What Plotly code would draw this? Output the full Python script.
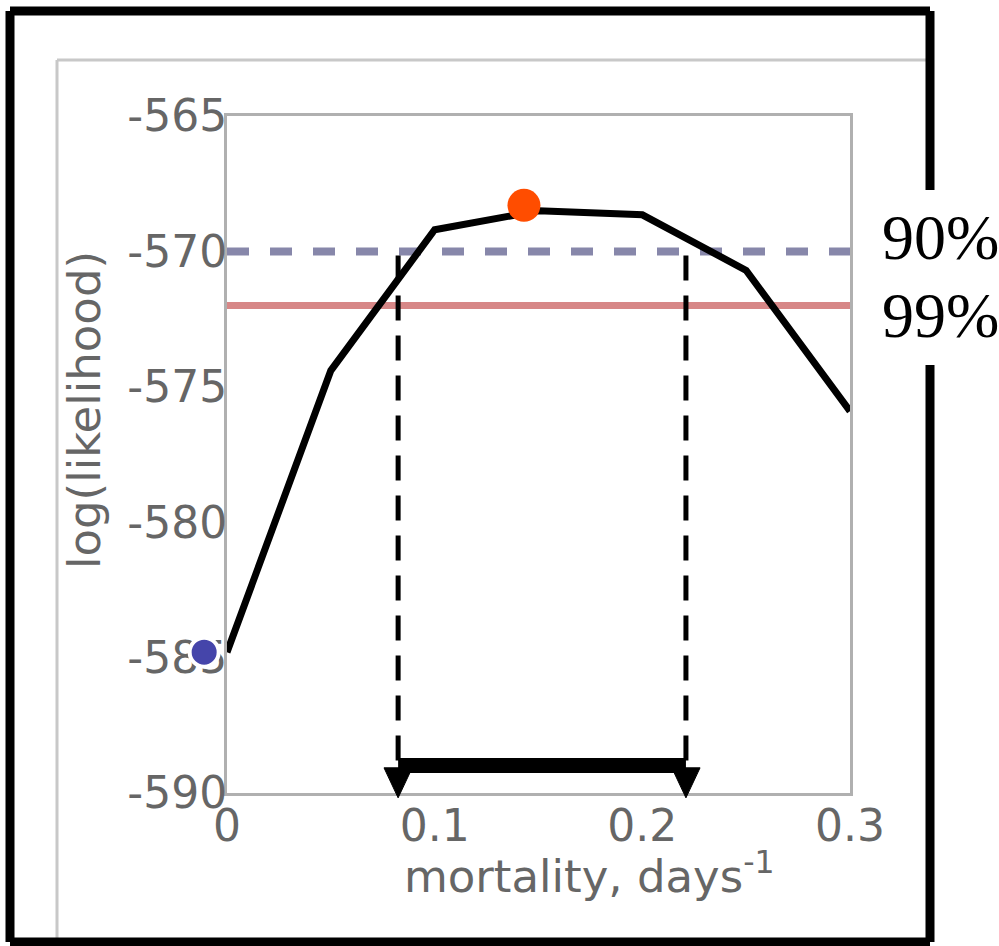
import plotly.graph_objects as go

# ---- data ----
mortality = [0.0, 0.05, 0.10, 0.15, 0.20, 0.25, 0.30]
loglik = [-584.8, -574.4, -569.2, -568.5, -568.65, -570.7, -575.9]

mle_x = [0.143]
mle_y = [-568.3]
start_x = [-0.011]
start_y = [-584.8]

level90 = -570.0
level99 = -572.0

ci_bounds = [0.0824, 0.221]
ci_top = -570.15
ci_bar_y = -588.98
arrow_top = -589.07
arrow_tip = -590.18
arrow_half_width = 0.0068

x_range = [0.0, 0.3]
y_range = [-590.0, -565.0]
x_ticks = [0.0, 0.1, 0.2, 0.3]
x_ticklabels = ["0", "0.1", "0.2", "0.3"]
y_ticks = [-590, -585, -580, -575, -570, -565]
y_ticklabels = ["-590", "-585", "-580", "-575", "-570", "-565"]

W, H = 999, 946
TICK_FONT = dict(family="DejaVu Sans", size=44, color="#666666")
LABEL_FONT = dict(family="DejaVu Sans", size=45, color="#666666")

fig = go.Figure()

# confidence levels
fig.add_trace(go.Scatter(x=x_range, y=[level99, level99], mode="lines",
                         line=dict(color="#d78787", width=7), hoverinfo="skip"))
fig.add_trace(go.Scatter(x=x_range, y=[level90, level90], mode="lines",
                         line=dict(color="#8787aa", width=8, dash="22px,21px"),
                         hoverinfo="skip"))
# likelihood curve
fig.add_trace(go.Scatter(x=mortality, y=loglik, mode="lines",
                         line=dict(color="black", width=7)))
# CI dashed verticals
for xb in ci_bounds:
    fig.add_trace(go.Scatter(x=[xb, xb], y=[ci_top, ci_bar_y], mode="lines",
                             line=dict(color="black", width=5, dash="25px,15px")))
# CI bar
fig.add_trace(go.Scatter(x=ci_bounds, y=[ci_bar_y, ci_bar_y], mode="lines",
                         line=dict(color="black", width=15)))
# maximum-likelihood point
fig.add_trace(go.Scatter(x=mle_x, y=mle_y, mode="markers", cliponaxis=False,
                         marker=dict(color="#ff4d00", size=33, line=dict(width=0))))


def xdom(v):
    return (v - x_range[0]) / (x_range[1] - x_range[0])


def ydom(v):
    return (v - y_range[0]) / (y_range[1] - y_range[0])


shapes = []
# arrowheads
for xb in ci_bounds:
    shapes.append(dict(
        type="path", xref="x", yref="y domain", layer="above",
        path=(f"M {xb - arrow_half_width},{ydom(arrow_top)} "
              f"L {xb + arrow_half_width},{ydom(arrow_top)} "
              f"L {xb},{ydom(arrow_tip)} Z"),
        fillcolor="black", line=dict(color="black", width=1)))

# starting point (lies just outside the axis range, so drawn as an unclipped circle)
for sx, sy in zip(start_x, start_y):
    shapes.append(dict(
        type="circle", xref="x domain", yref="y domain",
        xsizemode="pixel", ysizemode="pixel",
        xanchor=xdom(sx), yanchor=ydom(sy),
        x0=-14.5, x1=14.5, y0=-14.5, y1=14.5, layer="above",
        fillcolor="#4545aa", line=dict(color="white", width=4)))


def px(x):
    return x / W


def py(y):
    return 1 - y / H


# inner (original figure) gray frame
shapes.append(dict(type="line", xref="paper", yref="paper",
                   x0=px(57), y0=py(60), x1=px(57), y1=py(946),
                   line=dict(color="#c8c8c8", width=3), layer="below"))
shapes.append(dict(type="line", xref="paper", yref="paper",
                   x0=px(57), y0=py(60), x1=px(930), y1=py(60),
                   line=dict(color="#c8c8c8", width=3), layer="below"))
# outer black frame with gap for labels
black = dict(color="black", width=9)
for (a, b, c, d) in [(10, 11, 930, 11), (10, 11, 10, 942), (10, 942, 930, 942),
                     (930, 11, 930, 190), (930, 365, 930, 942)]:
    shapes.append(dict(type="line", xref="paper", yref="paper",
                       x0=px(a), y0=py(b), x1=px(c), y1=py(d), line=black,
                       layer="above"))

annotations = [
    dict(text="90%", x=px(940), y=py(238), xref="paper", yref="paper",
         showarrow=False, xanchor="center", yanchor="middle",
         font=dict(family="Liberation Serif", size=64, color="black")),
    dict(text="99%", x=px(940), y=py(315), xref="paper", yref="paper",
         showarrow=False, xanchor="center", yanchor="middle",
         font=dict(family="Liberation Serif", size=64, color="black")),
    dict(text="mortality, days<sup>-1</sup>", x=px(589), y=py(873),
         xref="paper", yref="paper", showarrow=False,
         xanchor="center", yanchor="middle", font=LABEL_FONT),
    dict(text="log(likelihood)", x=px(84), y=py(410), textangle=-90,
         xref="paper", yref="paper", showarrow=False,
         xanchor="center", yanchor="middle", font=LABEL_FONT),
]

fig.update_layout(
    width=W, height=H, margin=dict(l=0, r=0, t=0, b=0, pad=0),
    paper_bgcolor="white", plot_bgcolor="white", showlegend=False,
    shapes=shapes, annotations=annotations,
    xaxis=dict(domain=[227 / W, 850 / W], range=x_range, tickvals=x_ticks,
               ticktext=x_ticklabels, showgrid=False, zeroline=False,
               showline=True, mirror=True, linecolor="#b0b0b0", linewidth=3,
               ticks="", tickfont=TICK_FONT, layer="below traces",
               ticklabelstandoff=-8, automargin=False),
    yaxis=dict(domain=[1 - 793 / H, 1 - 116 / H], range=y_range,
               tickvals=y_ticks, ticktext=y_ticklabels, showgrid=False,
               zeroline=False, showline=True, mirror=True,
               linecolor="#b0b0b0", linewidth=3, ticks="",
               tickfont=TICK_FONT, layer="below traces",
               ticklabelstandoff=-12, automargin=False),
)

fig.write_html("out.html")
